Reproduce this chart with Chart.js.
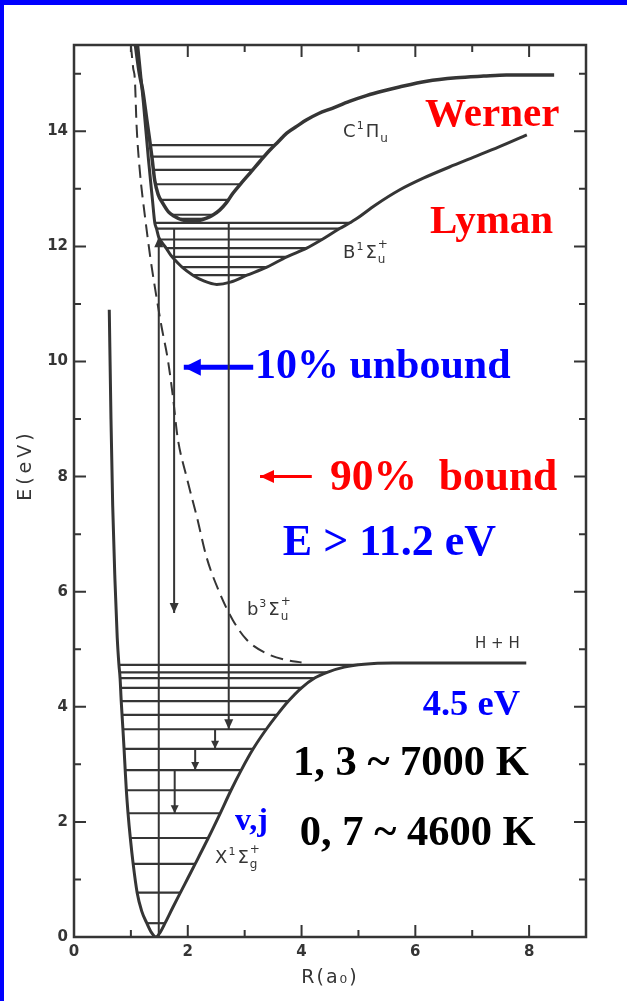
<!DOCTYPE html>
<html>
<head>
<meta charset="utf-8">
<script src="https://cdn.jsdelivr.net/npm/chart.js@4.4.1/dist/chart.umd.min.js"></script>
<style>
  html, body { margin: 0; padding: 0; background: #ffffff; }
  #wrap { position: relative; width: 627px; height: 1001px; overflow: hidden; background: #ffffff; }
  #wrap canvas { position: absolute; left: 0; top: 0; }
  .band { position: absolute; background: #0000ff; }
</style>
</head>
<body>
<div id="wrap">
  <canvas id="chart" width="627" height="1001"></canvas>
  <div class="band" style="left:0;top:0;width:627px;height:5px"></div>
  <div class="band" style="left:0;top:0;width:4px;height:1001px"></div>
</div>
<script>
// ---- axes ----
const rRange = [0, 9];          // R (a0)
const eRange = [0, 15.5];       // E (eV)
const rTicks = [0, 1, 2, 3, 4, 5, 6, 7, 8];
const eTicks = [0, 1, 2, 3, 4, 5, 6, 7, 8, 9, 10, 11, 12, 13, 14, 15];

// ---- ground state X1Σg+ ----
const groundR = [0.62, 0.65, 0.68, 0.72, 0.76, 0.79, 0.81, 0.83, 0.86, 0.88, 0.90, 0.92, 0.95, 0.99, 1.04, 1.11, 1.19, 1.28, 1.36, 1.44,
                 1.52, 1.60, 1.73, 1.87, 2.00, 2.13, 2.36, 2.57, 2.76, 2.94, 3.15, 3.38, 3.57, 3.77, 4.00, 4.23, 4.45,
                 4.75, 5.10, 5.60, 7.95];
const groundE = [10.9, 9.0, 7.5, 6.2, 5.2, 4.73, 4.50, 4.10, 3.61, 3.27, 2.90, 2.55, 2.15, 1.72, 1.27, 0.77, 0.45, 0.24, 0.08, 0.0,
                 0.09, 0.24, 0.50, 0.77, 1.02, 1.27, 1.72, 2.15, 2.55, 2.90, 3.27, 3.61, 3.86, 4.10, 4.33, 4.50, 4.60,
                 4.69, 4.74, 4.76, 4.76];
const groundLevelE     = [0.24, 0.77, 1.27, 1.72, 2.15, 2.55, 2.90, 3.27, 3.61, 3.86, 4.10, 4.33, 4.50, 4.60, 4.73];
const groundLevelLeft  = [1.28, 1.11, 1.04, 0.99, 0.95, 0.92, 0.90, 0.88, 0.86, 0.85, 0.83, 0.82, 0.81, 0.80, 0.79];
const groundLevelRight = [1.60, 1.87, 2.13, 2.36, 2.57, 2.76, 2.94, 3.15, 3.38, 3.57, 3.77, 4.00, 4.23, 4.45, 5.00];

// ---- B1Σu+ (Lyman) ----
const lymanR = [1.12, 1.22, 1.31, 1.38, 1.42, 1.45, 1.49, 1.56, 1.62, 1.70, 1.78, 1.90, 2.09, 2.28, 2.51, 2.75, 3.04, 3.39, 3.74,
                4.09, 4.36, 4.67, 4.85, 4.95, 5.30, 5.72, 6.15, 6.60, 7.05, 7.47, 7.96];
const lymanE = [15.5, 14.5, 13.5, 12.8, 12.41, 12.31, 12.16, 12.05, 11.97, 11.85, 11.76, 11.64, 11.50, 11.40, 11.34, 11.38, 11.50,
                11.64, 11.82, 11.97, 12.12, 12.31, 12.41, 12.47, 12.72, 12.98, 13.19, 13.38, 13.56, 13.73, 13.94];
const lymanLevelE     = [11.50, 11.64, 11.82, 11.97, 12.12, 12.31, 12.41];
const lymanLevelLeft  = [2.09, 1.90, 1.72, 1.62, 1.51, 1.45, 1.42];
const lymanLevelRight = [3.04, 3.39, 3.74, 4.09, 4.36, 4.67, 4.85];

// ---- C1Πu (Werner) ----
const wernerR = [1.08, 1.15, 1.21, 1.28, 1.33, 1.37, 1.42, 1.48, 1.56, 1.66, 1.77, 1.90, 2.04, 2.20, 2.33, 2.45, 2.56, 2.68, 2.79,
                 2.94, 3.09, 3.27, 3.44, 3.59, 3.74, 3.92, 4.09, 4.30, 4.54, 4.84, 5.14, 5.43, 5.72, 6.20, 6.72, 7.20, 7.60, 8.44];
const wernerE = [15.5, 15.0, 14.7, 14.2, 13.85, 13.55, 13.14, 12.90, 12.75, 12.60, 12.52, 12.46, 12.44, 12.45, 12.49, 12.55, 12.63,
                 12.76, 12.92, 13.10, 13.27, 13.48, 13.67, 13.82, 13.97, 14.09, 14.20, 14.31, 14.40, 14.52, 14.62, 14.70, 14.77,
                 14.87, 14.93, 14.96, 14.98, 14.98];
const wernerLevelE     = [12.48, 12.55, 12.81, 13.08, 13.33, 13.56, 13.76];
const wernerLevelLeft  = [1.88, 1.72, 1.53, 1.43, 1.40, 1.37, 1.34];
const wernerLevelRight = [2.28, 2.45, 2.71, 2.93, 3.14, 3.34, 3.53];

// ---- b3Σu+ (repulsive, dashed) ----
const tripletR = [1.00, 1.04, 1.07, 1.10, 1.16, 1.25, 1.34, 1.42, 1.54, 1.65, 1.74, 1.82, 1.98, 2.16, 2.33, 2.56, 2.79, 3.04, 3.38, 3.74, 4.00];
const tripletE = [15.5, 15.1, 14.9, 14.1, 13.28, 12.5, 11.82, 11.3, 10.6, 10.03, 9.38, 8.69, 7.99, 7.30, 6.60, 5.98, 5.51, 5.16, 4.93, 4.81, 4.77];

// ---- transitions (vertical arrows, head at the "to" end) ----
const transR    = [1.49, 1.76, 2.72, 2.48, 2.13, 1.77];
const transFrom = [0.00, 12.31, 12.41, 3.61, 3.27, 2.90];
const transTo   = [12.16, 5.63, 3.61, 3.27, 2.90, 2.15];

// ---- annotation arrows (tail -> tip, horizontal) ----
const pointerE    = [9.90, 8.00];
const pointerTail = [3.15, 4.18];
const pointerTip  = [1.93, 3.27];

const INK = '#353535';
const BLUE = '#0000ff';
const RED = '#ff0000';

const pts = (xs, ys) => xs.map((v, i) => ({ x: v, y: ys[i] }));

const datasets = [];
function curve(xs, ys, width, extra) {
  datasets.push(Object.assign({
    data: pts(xs, ys), showLine: true, borderColor: INK, borderWidth: width,
    pointRadius: 0, cubicInterpolationMode: 'monotone', fill: false
  }, extra || {}));
}
function segment(x0, y0, x1, y1, color, width) {
  datasets.push({
    data: [{ x: x0, y: y0 }, { x: x1, y: y1 }], showLine: true, borderColor: color,
    borderWidth: width, pointRadius: 0, fill: false
  });
}

curve(groundR, groundE, 3);
curve(lymanR, lymanE, 3);
curve(wernerR, wernerE, 3.5);
curve(tripletR, tripletE, 2, { borderDash: [13, 7] });
groundLevelE.forEach((e, i) => segment(groundLevelLeft[i], e, groundLevelRight[i], e, INK, 2.2));
lymanLevelE.forEach((e, i) => segment(lymanLevelLeft[i], e, lymanLevelRight[i], e, INK, 2.2));
wernerLevelE.forEach((e, i) => segment(wernerLevelLeft[i], e, wernerLevelRight[i], e, INK, 2.2));
transR.forEach((r, i) => segment(r, transFrom[i], r, transTo[i], INK, 2));
segment(pointerTail[0], pointerE[0], pointerTip[0], pointerE[0], BLUE, 5);
segment(pointerTail[1], pointerE[1], pointerTip[1], pointerE[1], RED, 3);

// Slide captions, placed in data units (left edge, baseline)
const captions = [
  { text: 'Werner',        r: 6.17, e: 14.09, color: RED,   font: 'bold 41px "Liberation Serif"' },
  { text: 'Lyman',         r: 6.26, e: 12.23, color: RED,   font: 'bold 41px "Liberation Serif"' },
  { text: '10% unbound',   r: 3.18, e: 9.71,  color: BLUE,  font: 'bold 42px "Liberation Serif"' },
  { text: '90%  bound',    r: 4.50, e: 7.77,  color: RED,   font: 'bold 43.5px "Liberation Serif"' },
  { text: 'E > 11.2 eV',   r: 3.67, e: 6.64,  color: BLUE,  font: 'bold 44px "Liberation Serif"' },
  { text: '4.5 eV',        r: 6.13, e: 3.86,  color: BLUE,  font: 'bold 36.5px "Liberation Serif"' },
  { text: '1, 3 ~ 7000 K', r: 3.85, e: 2.81,  color: '#000', font: 'bold 42.5px "Liberation Serif"' },
  { text: '0, 7 ~ 4600 K', r: 3.97, e: 1.60,  color: '#000', font: 'bold 42.5px "Liberation Serif"' },
  { text: 'v,j',           r: 2.83, e: 1.86,  color: BLUE,  font: 'bold 32px "Liberation Serif"' },
  { text: 'H + H',         r: 7.05, e: 5.02,  color: INK,   font: '15px "DejaVu Sans"' }
];

// Molecular term symbols: base, spin multiplicity, Λ symbol, parity, reflection
const terms = [
  { base: 'C', mult: '1', sym: 'Π', par: 'u', refl: '',  r: 4.73, e: 13.90 },
  { base: 'B', mult: '1', sym: 'Σ', par: 'u', refl: '+', r: 4.73, e: 11.80 },
  { base: 'b', mult: '3', sym: 'Σ', par: 'u', refl: '+', r: 3.04, e: 5.60 },
  { base: 'X', mult: '1', sym: 'Σ', par: 'g', refl: '+', r: 2.48, e: 1.29 }
];

function arrowHead(ctx, px, py, dir, len, half, color) {
  ctx.save();
  ctx.fillStyle = color;
  ctx.beginPath();
  if (dir === 'up') {
    ctx.moveTo(px, py); ctx.lineTo(px - half, py + len); ctx.lineTo(px + half, py + len);
  } else if (dir === 'down') {
    ctx.moveTo(px, py); ctx.lineTo(px - half, py - len); ctx.lineTo(px + half, py - len);
  } else {
    ctx.moveTo(px, py); ctx.lineTo(px + len, py - half); ctx.lineTo(px + len, py + half);
  }
  ctx.closePath();
  ctx.fill();
  ctx.restore();
}

const framePlugin = {
  id: 'frame',
  afterDatasetsDraw(chart) {
    const { ctx, chartArea: a, scales: { x, y } } = chart;
    ctx.save();
    ctx.strokeStyle = INK;
    ctx.lineWidth = 2.5;
    ctx.strokeRect(a.left, a.top, a.right - a.left, a.bottom - a.top);
    ctx.lineWidth = 2;
    ctx.beginPath();
    rTicks.forEach(v => {
      if (v === 0) return;
      const px = x.getPixelForValue(v);
      const len = v % 2 === 0 ? 12 : 7;
      ctx.moveTo(px, a.bottom); ctx.lineTo(px, a.bottom - len);
      ctx.moveTo(px, a.top); ctx.lineTo(px, a.top + len);
    });
    eTicks.forEach(v => {
      if (v === 0) return;
      const py = y.getPixelForValue(v);
      const len = v % 2 === 0 ? 12 : 7;
      ctx.moveTo(a.left, py); ctx.lineTo(a.left + len, py);
      ctx.moveTo(a.right, py); ctx.lineTo(a.right - len, py);
    });
    ctx.stroke();

    // transition arrow heads
    transR.forEach((r, i) => {
      const px = x.getPixelForValue(r);
      const py = y.getPixelForValue(transTo[i]);
      const big = i < 3;
      arrowHead(ctx, px, py, transTo[i] > transFrom[i] ? 'up' : 'down', big ? 10 : 8, big ? 4.5 : 4, INK);
    });
    // pointer heads
    arrowHead(ctx, x.getPixelForValue(pointerTip[0]), y.getPixelForValue(pointerE[0]), 'left', 17, 8.5, BLUE);
    arrowHead(ctx, x.getPixelForValue(pointerTip[1]), y.getPixelForValue(pointerE[1]), 'left', 14, 6.5, RED);

    // captions
    ctx.textBaseline = 'alphabetic';
    ctx.textAlign = 'left';
    captions.forEach(c => {
      ctx.font = c.font;
      ctx.fillStyle = c.color;
      ctx.fillText(c.text, x.getPixelForValue(c.r), y.getPixelForValue(c.e));
    });

    // term symbols
    ctx.fillStyle = INK;
    terms.forEach(t => {
      let px = x.getPixelForValue(t.r);
      const py = y.getPixelForValue(t.e);
      ctx.font = '18px "DejaVu Sans"';
      ctx.fillText(t.base, px, py);
      px += ctx.measureText(t.base).width + 1;
      ctx.font = '11px "DejaVu Sans"';
      ctx.fillText(t.mult, px, py - 8);
      px += ctx.measureText(t.mult).width + 2;
      ctx.font = '18px "DejaVu Sans"';
      ctx.fillText(t.sym, px, py);
      px += ctx.measureText(t.sym).width + 1;
      ctx.font = '12px "DejaVu Sans"';
      ctx.fillText(t.par, px, py + 5);
      if (t.refl) ctx.fillText(t.refl, px, py - 10);
    });

    // axis titles
    ctx.fillStyle = INK;
    ctx.font = '19px "DejaVu Sans"';
    ctx.textAlign = 'center';
    ctx.textBaseline = 'middle';
    if ('letterSpacing' in ctx) ctx.letterSpacing = '2px';
    const xt = (a.left + a.right) / 2;
    ctx.fillText('R(a₀)', xt, 978);
    if ('letterSpacing' in ctx) ctx.letterSpacing = '4px';
    ctx.translate(26, y.getPixelForValue(8.2));
    ctx.rotate(-Math.PI / 2);
    ctx.fillText('E(eV)', 0, 0);
    ctx.restore();
  }
};

new Chart(document.getElementById('chart'), {
  type: 'scatter',
  data: { datasets },
  options: {
    responsive: false,
    animation: false,
    devicePixelRatio: 1,
    layout: { padding: { left: 0, right: 41, top: 45, bottom: 0 } },
    plugins: { legend: { display: false }, tooltip: { enabled: false } },
    scales: {
      x: {
        type: 'linear', position: 'bottom', min: rRange[0], max: rRange[1],
        afterFit: s => { s.height = 64; },
        grid: { display: false, drawTicks: false },
        border: { display: false },
        ticks: {
          stepSize: 1, autoSkip: false, padding: 6, color: INK,
          font: { family: 'DejaVu Sans', size: 15, weight: 'bold' },
          callback: v => (v % 2 === 0 && v <= 8 ? String(v) : '')
        }
      },
      y: {
        type: 'linear', position: 'left', min: eRange[0], max: eRange[1],
        afterFit: s => { s.width = 74; },
        grid: { display: false, drawTicks: false },
        border: { display: false },
        ticks: {
          stepSize: 1, autoSkip: false, padding: 6, color: INK,
          font: { family: 'DejaVu Sans', size: 15, weight: 'bold' },
          callback: v => (Number.isInteger(v) && v % 2 === 0 ? String(v) : '')
        }
      }
    }
  },
  plugins: [framePlugin]
});
</script>
</body>
</html>
